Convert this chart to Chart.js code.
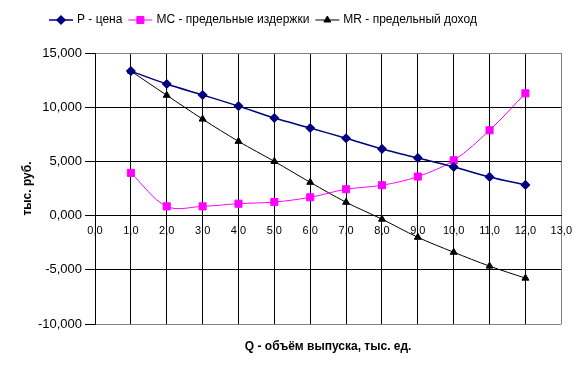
<!DOCTYPE html>
<html>
<head>
<meta charset="utf-8">
<script src="https://cdn.jsdelivr.net/npm/chart.js@4/dist/chart.umd.min.js"></script>
<style>
  html, body { margin: 0; padding: 0; background: #fff; }
  #wrap { width: 581px; height: 375px; }
</style>
</head>
<body>
<div id="wrap"><canvas id="chart"></canvas></div>
<script>
// --- data (тыс. руб.) ---
const quantity = [1, 2, 3, 4, 5, 6, 7, 8, 9, 10, 11, 12];
const priceP = [13.33, 12.14, 11.13, 10.1, 9.0, 8.08, 7.13, 6.15, 5.32, 4.49, 3.57, 2.83];
const costMC = [3.94, 0.85, 0.85, 1.1, 1.25, 1.69, 2.43, 2.8, 3.6, 5.1, 7.87, 11.28];
const revenueMR = [13.33, 11.1, 8.9, 6.85, 5.0, 3.07, 1.23, -0.33, -2.0, -3.38, -4.66, -5.77];

const seriesNames = ['P - цена', 'MC - предельные издержки', 'MR - предельный доход'];
const xTitle = 'Q - объём выпуска, тыс. ед.';
const yTitle = 'тыс. руб.';

const toPoints = (ys) => quantity.map((q, i) => ({ x: q, y: ys[i] }));
const fontFamily = '"Liberation Sans", Arial, sans-serif';

// legend with line + marker, and the x axis title under the plot
const extras = {
    id: 'extras',
    afterDraw(chart) {
        const ctx = chart.ctx;
        const area = chart.chartArea;
        ctx.save();
        ctx.font = '12px ' + fontFamily;
        ctx.textBaseline = 'middle';
        let x = 49;
        const y = 20;
        chart.data.datasets.forEach(ds => {
            ctx.strokeStyle = ds.borderColor;
            ctx.lineWidth = ds.borderWidth;
            ctx.beginPath();
            ctx.moveTo(x, y);
            ctx.lineTo(x + 24, y);
            ctx.stroke();
            ctx.fillStyle = ds.pointBackgroundColor;
            ctx.strokeStyle = ds.pointBorderColor;
            Chart.helpers.drawPoint(ctx, {
                pointStyle: ds.pointStyle, radius: ds.pointRadius, rotation: 0, borderWidth: 1
            }, x + 12, y);
            ctx.fillStyle = '#000';
            ctx.fillText(ds.label, x + 28, y);
            x += 28 + ctx.measureText(ds.label).width + 6;
        });

        ctx.font = 'bold 12px ' + fontFamily;
        ctx.textAlign = 'center';
        ctx.fillStyle = '#000';
        ctx.fillText(xTitle, (area.left + area.right) / 2, 347);
        ctx.restore();
    }
};

new Chart(document.getElementById('chart'), {
    type: 'line',
    data: {
        datasets: [
            {
                label: seriesNames[0],
                data: toPoints(priceP),
                borderColor: '#000080',
                borderWidth: 1.5,
                pointStyle: 'rectRot',
                pointRadius: 4,
                pointBackgroundColor: '#000080',
                pointBorderColor: '#000080',
                tension: 0.35
            },
            {
                label: seriesNames[1],
                data: toPoints(costMC),
                borderColor: '#ff00ff',
                borderWidth: 1,
                pointStyle: 'rect',
                pointRadius: 5,
                pointBackgroundColor: '#ff00ff',
                pointBorderColor: '#ff00ff',
                tension: 0.35
            },
            {
                label: seriesNames[2],
                data: toPoints(revenueMR),
                borderColor: '#000000',
                borderWidth: 1,
                pointStyle: 'triangle',
                pointRadius: 4,
                pointBackgroundColor: '#000000',
                pointBorderColor: '#000000',
                tension: 0.35
            }
        ]
    },
    options: {
        responsive: true,
        maintainAspectRatio: false,
        animation: false,
        layout: { padding: { top: 53, right: 18, bottom: 51, left: 0 } },
        plugins: {
            legend: { display: false },
            tooltip: { enabled: false }
        },
        scales: {
            x: {
                type: 'linear',
                min: 0,
                max: 13,
                position: { y: 0 },
                ticks: {
                    stepSize: 1,
                    color: '#000',
                    padding: 9,
                    maxRotation: 0,
                    font: { family: fontFamily, size: 11 },
                    callback: v => v.toFixed(1).replace('.', ',')
                },
                grid: {
                    drawTicks: false,
                    lineWidth: 1,
                    color: c => (c.tick && c.tick.value === 13 ? '#808080' : '#000')
                },
                border: { color: '#000', width: 1 }
            },
            y: {
                min: -10,
                max: 15,
                ticks: {
                    stepSize: 5,
                    color: '#000',
                    padding: 3,
                    font: { family: fontFamily, size: 13 },
                    callback: v => v.toFixed(3).replace('.', ',')
                },
                grid: {
                    tickLength: 10,
                    tickColor: '#000',
                    color: c => (c.tick && (c.tick.value === 15 || c.tick.value === -10) ? '#808080' : '#000')
                },
                border: { color: '#000', width: 1 },
                title: {
                    display: true,
                    text: yTitle,
                    color: '#000',
                    padding: { top: 20, bottom: 0 },
                    font: { family: fontFamily, size: 12, weight: 'bold' }
                },
                afterFit: scale => { scale.width = 95; }
            }
        }
    },
    plugins: [extras]
});
</script>
</body>
</html>
